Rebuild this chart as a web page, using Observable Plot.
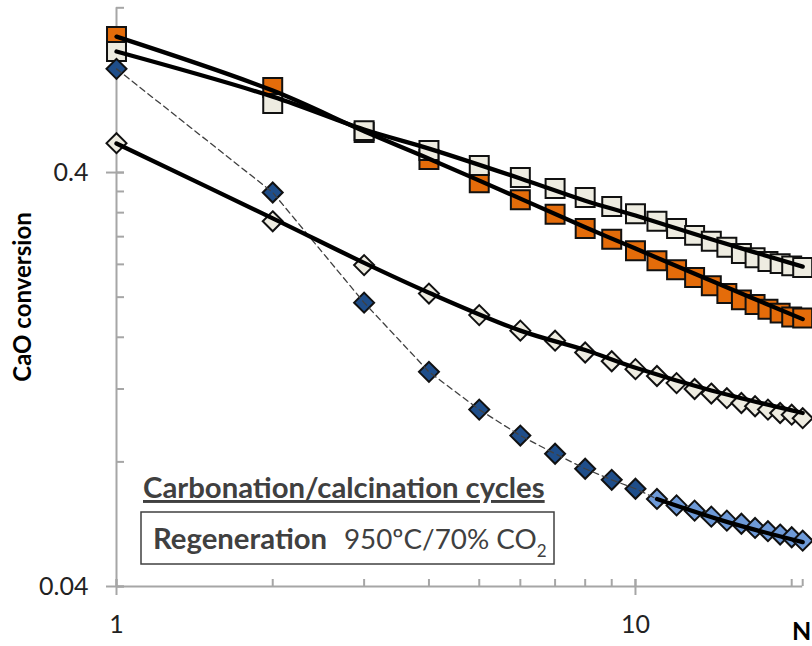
<!DOCTYPE html>
<html><head><meta charset="utf-8">
<script src="https://cdn.jsdelivr.net/npm/d3@7"></script>
<script src="https://cdn.jsdelivr.net/npm/@observablehq/plot@0.6"></script>
<style>
body{margin:0;background:#fff;}
#wrap{position:relative;width:812px;height:646px;overflow:hidden;}
#wrap svg{position:absolute;left:0;top:0;}
</style></head>
<body><div id="wrap"></div>
<script>
// Cycle number N
const N = [1,2,3,4,5,6,7,8,9,10,11,12,13,14,15,16,17,18,19,20,21];
// Orange squares
const orangeSq = [0.852,0.642,0.500,0.430,0.378,0.344,0.317,0.293,0.276,0.259,0.245,0.233,0.223,0.213,0.204,0.197,0.192,0.187,0.183,0.179,0.178];
// Light (beige) squares
const beigeSq = [0.784,0.587,0.505,0.452,0.416,0.389,0.366,0.348,0.331,0.318,0.305,0.293,0.282,0.273,0.264,0.255,0.249,0.244,0.241,0.238,0.236];
// Light diamonds
const lightDia = [0.471,0.305,0.239,0.204,0.181,0.166,0.157,0.147,0.140,0.134,0.129,0.124,0.120,0.117,0.114,0.111,0.109,0.107,0.105,0.104,0.102];
// Dark blue diamonds, N = 1..10
const darkN = [1,2,3,4,5,6,7,8,9,10];
const darkBlue = [0.712,0.358,0.194,0.132,0.107,0.0926,0.0837,0.0770,0.0724,0.0689];
// Light blue diamonds, N = 11..21
const blueN = [11,12,13,14,15,16,17,18,19,20,21];
const lightBlue = [0.0651,0.0628,0.0610,0.0590,0.0577,0.0567,0.0554,0.0544,0.0534,0.0526,0.0516];
// Fitted curves
const fitN = [1,2,3,4,6,8,10,14,21];
const orangeFit = [0.852,0.631,0.503,0.432,0.346,0.295,0.262,0.219,0.177];
const beigeFit = [0.784,0.610,0.508,0.457,0.387,0.342,0.315,0.276,0.237];
const diaFit = [0.470,0.310,0.242,0.205,0.166,0.149,0.135,0.119,0.105];
const blueFitN = [11,15,21];
const blueFit = [0.0651,0.0573,0.0512];
// Ticks
const yMajor = [0.04,0.4];
const yMinor = [0.08,0.12,0.16,0.2,0.24,0.28,0.32,0.36,0.8,1];
const xMajor = [1,10];
const xMinor = [2,3,4,5,6,7,8,9,20,21];
const yTickLabels = ["0.04","0.4"];
const xTickLabels = ["1","10"];

const W = 812, H = 646, mL = 116, mR = 9.8, mT = 7.3, mB = 60;
const frameW = W - mL - mR, frameH = H - mT - mB;
const rows = (xs, ys) => xs.map((x,i)=>({x, y: ys[i]}));
const axisGray = "#a6a6a6";

const dashed = rows(darkN.concat([blueN[0]]), darkBlue.concat([lightBlue[0]]));

const chart = Plot.plot({
  width: W, height: H,
  marginLeft: mL, marginRight: mR, marginTop: mT, marginBottom: mB,
  x: {type: "log", domain: [1, 21]},
  y: {type: "log", domain: [0.04, 1]},
  style: {background: "white", fontFamily: "Lato, sans-serif", overflow: "visible"},
  marks: [
    Plot.ruleY([0.04], {stroke: axisGray, strokeWidth: 2}),
    Plot.ruleX([1], {stroke: axisGray, strokeWidth: 2}),
    Plot.tickY(yMinor.concat(yMajor), {y: d=>d, stroke: axisGray, strokeWidth: 2, insetRight: frameW - 8}),
    Plot.tickY(yMajor, {y: d=>d, stroke: axisGray, strokeWidth: 2, insetRight: frameW - 18, dx: -10}),
    Plot.tickX(xMinor.concat(xMajor), {x: d=>d, stroke: axisGray, strokeWidth: 2, insetTop: frameH - 7}),
    Plot.tickX(xMajor, {x: d=>d, stroke: axisGray, strokeWidth: 2, insetTop: frameH - 16, dy: 9}),
    Plot.axisY(yMajor, {tickSize: 0, tickPadding: 28, fontSize: 25, fill: "#222", tickFormat: (d,i)=>yTickLabels[yMajor.indexOf(d)], label: null}),
    Plot.axisX(xMajor, {tickSize: 0, tickPadding: 29, fontSize: 25, fill: "#222", tickFormat: d=>xTickLabels[xMajor.indexOf(d)], label: null}),
    // markers
    Plot.dot(rows(N, orangeSq), {x: "x", y: "y", symbol: "square", r: 10.7, fill: "#e46c0a", stroke: "#111", strokeWidth: 2}),
    Plot.dot(rows(N, beigeSq), {x: "x", y: "y", symbol: "square", r: 10.7, fill: "#eeece1", stroke: "#111", strokeWidth: 2}),
    Plot.dot(rows(N, lightDia), {x: "x", y: "y", symbol: "diamond2", r: 9, fill: "#eeece1", stroke: "#111", strokeWidth: 2}),
    Plot.dot(rows(darkN, darkBlue), {x: "x", y: "y", symbol: "diamond2", r: 9, fill: "#1f4e8a", stroke: "#111", strokeWidth: 2}),
    Plot.dot(rows(blueN, lightBlue), {x: "x", y: "y", symbol: "diamond2", r: 9, fill: "#6e9ad8", stroke: "#111", strokeWidth: 2}),
    // lines
    Plot.line(dashed, {x: "x", y: "y", stroke: "#404040", strokeWidth: 1.3, strokeDasharray: "6,4"}),
    Plot.line(rows(fitN, orangeFit), {x: "x", y: "y", stroke: "#000", strokeWidth: 4.3, strokeLinecap: "round", curve: "catmull-rom"}),
    Plot.line(rows(fitN, beigeFit), {x: "x", y: "y", stroke: "#000", strokeWidth: 4.3, strokeLinecap: "round", curve: "catmull-rom"}),
    Plot.line(rows(fitN, diaFit), {x: "x", y: "y", stroke: "#000", strokeWidth: 4.3, strokeLinecap: "round", curve: "catmull-rom"}),
    Plot.line(rows(blueFitN, blueFit), {x: "x", y: "y", stroke: "#000", strokeWidth: 4.3, strokeLinecap: "round", curve: "catmull-rom"})
  ]
});
const wrap = document.getElementById("wrap");
wrap.appendChild(chart);

// Text annotations overlay
const ov = d3.select(wrap).append("svg").attr("width", W).attr("height", H)
  .style("font-family", "Lato, sans-serif").style("pointer-events", "none");
ov.append("text").attr("transform", "translate(31,297) rotate(-90)")
  .attr("text-anchor", "middle").attr("font-weight", "bold").attr("font-size", 24).attr("fill", "#000")
  .text("CaO conversion");
ov.append("text").attr("x", 143).attr("y", 498).attr("font-weight", "bold").attr("font-size", 29.3)
  .attr("fill", "#404040").style("text-decoration", "underline").text("Carbonation/calcination cycles");
ov.append("rect").attr("x", 141).attr("y", 512).attr("width", 413).attr("height", 52)
  .attr("fill", "white").attr("stroke", "#404040").attr("stroke-width", 1.5);
ov.append("text").attr("x", 153).attr("y", 549).attr("font-weight", "bold").attr("font-size", 29.3)
  .attr("fill", "#404040").text("Regeneration");
const t2 = ov.append("text").attr("x", 344).attr("y", 549).attr("font-size", 27.8).attr("fill", "#404040");
t2.append("tspan").text("950ºC/70% CO");
t2.append("tspan").attr("font-size", 17).attr("dy", 8).text("2");
ov.append("text").attr("x", 792).attr("y", 640).attr("font-weight", "bold").attr("font-size", 25)
  .attr("fill", "#000").text("N");
</script></body></html>
